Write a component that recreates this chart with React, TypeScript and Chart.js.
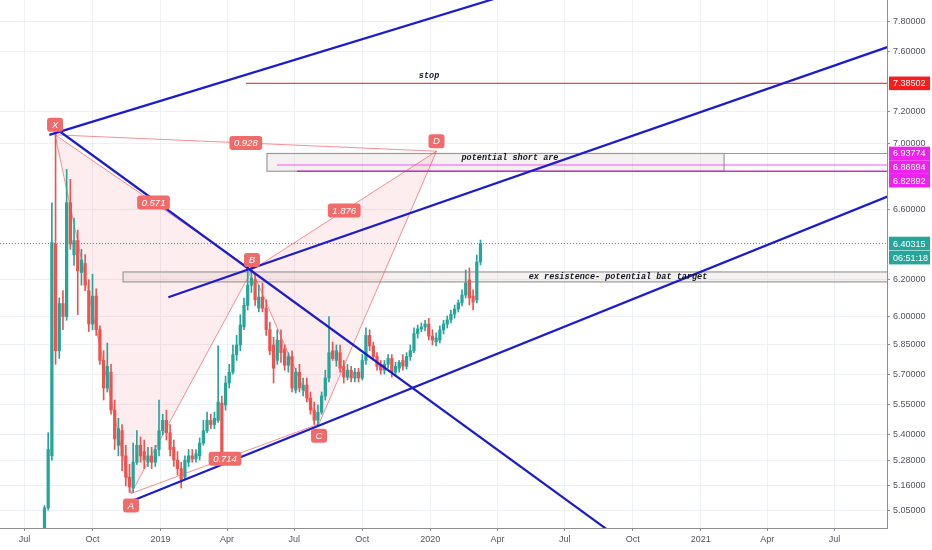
import React, { useEffect, useRef } from "react";
import { Chart, registerables } from "chart.js";

Chart.register(...registerables);

// ---------- data (x = days after 2018-07-01, y = price) ----------
const candleStartDay = 27;
const candleStepDays = 5;

const opens = [
  4.96, 5.06, 5.30, 6.40, 5.82, 6.07, 6.00, 6.64, 6.34, 6.42,
  6.24, 6.29, 6.14, 5.96, 6.11, 5.93, 5.77, 5.63, 5.71, 5.52,
  5.35, 5.42, 5.30, 5.20, 5.15, 5.27, 5.35, 5.32, 5.27, 5.30,
  5.27, 5.33, 5.42, 5.47, 5.41, 5.34, 5.28, 5.24, 5.20, 5.27,
  5.30, 5.285, 5.30, 5.36, 5.42, 5.47, 5.45, 5.47, 5.555, 5.545,
  5.655, 5.71, 5.80, 5.85, 5.945, 6.06, 6.17, 6.20, 6.045, 6.105,
  6.045, 5.93, 5.85, 5.77, 5.875, 5.83, 5.745, 5.79, 5.62, 5.71,
  5.62, 5.645, 5.58, 5.52, 5.47, 5.51, 5.59, 5.68, 5.82, 5.77,
  5.81, 5.74, 5.685, 5.72, 5.68, 5.71, 5.68, 5.77, 5.90, 5.845,
  5.79, 5.75, 5.72, 5.75, 5.78, 5.71, 5.73, 5.77, 5.74, 5.79,
  5.82, 5.91, 5.934, 5.944, 5.96, 5.897, 5.866, 5.876, 5.929, 5.96,
  5.982, 6.013, 6.04, 6.073, 6.116, 6.199, 6.111, 6.089, 6.299,
];
const highs = [
  5.07, 5.41, 6.64, 7.06, 6.10, 6.14, 6.84, 6.78, 6.55, 6.48,
  6.37, 6.34, 6.20, 6.23, 6.15, 5.95, 5.82, 5.86, 5.75, 5.57,
  5.48, 5.45, 5.35, 5.26, 5.36, 5.42, 5.39, 5.375, 5.34, 5.34,
  5.35, 5.57, 5.50, 5.52, 5.45, 5.375, 5.32, 5.27, 5.30, 5.33,
  5.33, 5.33, 5.385, 5.47, 5.51, 5.50, 5.51, 5.845, 5.59, 5.69,
  5.75, 5.85, 5.90, 6.01, 6.10, 6.25, 6.265, 6.23, 6.17, 6.18,
  6.09, 5.97, 5.89, 5.93, 5.93, 5.85, 5.81, 5.82, 5.73, 5.75,
  5.68, 5.68, 5.61, 5.56, 5.545, 5.61, 5.72, 6.00, 5.865, 5.85,
  5.85, 5.77, 5.75, 5.74, 5.73, 5.73, 5.80, 5.94, 5.93, 5.865,
  5.81, 5.77, 5.77, 5.80, 5.80, 5.76, 5.77, 5.80, 5.81, 5.85,
  5.94, 5.955, 5.966, 5.98, 5.99, 5.93, 5.913, 5.95, 5.98, 6.003,
  6.035, 6.062, 6.089, 6.144, 6.254, 6.265, 6.144, 6.338, 6.423,
];
const lows = [
  4.94, 5.05, 5.28, 5.75, 5.78, 5.93, 5.98, 6.37, 6.28, 6.01,
  6.17, 6.14, 5.92, 5.93, 5.90, 5.75, 5.57, 5.61, 5.50, 5.33,
  5.30, 5.23, 5.16, 5.13, 5.13, 5.26, 5.27, 5.24, 5.25, 5.24,
  5.25, 5.30, 5.40, 5.375, 5.30, 5.25, 5.21, 5.15, 5.19, 5.25,
  5.27, 5.27, 5.28, 5.35, 5.41, 5.43, 5.43, 5.46, 5.27, 5.52,
  5.63, 5.70, 5.77, 5.82, 5.93, 6.035, 6.13, 6.06, 6.025, 6.025,
  5.90, 5.80, 5.655, 5.75, 5.76, 5.72, 5.71, 5.61, 5.605, 5.61,
  5.59, 5.56, 5.50, 5.45, 5.443, 5.50, 5.57, 5.66, 5.77, 5.74,
  5.71, 5.655, 5.67, 5.66, 5.66, 5.66, 5.67, 5.75, 5.82, 5.77,
  5.72, 5.70, 5.70, 5.73, 5.685, 5.69, 5.71, 5.72, 5.726, 5.77,
  5.81, 5.886, 5.918, 5.923, 5.876, 5.85, 5.845, 5.86, 5.907, 5.939,
  5.966, 5.992, 6.024, 6.057, 6.10, 6.062, 6.035, 6.073, 6.282,
];
const closes = [
  5.06, 5.33, 6.41, 5.82, 6.07, 6.00, 6.64, 6.40, 6.42, 6.25,
  6.31, 6.17, 5.96, 6.11, 5.93, 5.77, 5.63, 5.74, 5.52, 5.38,
  5.43, 5.30, 5.20, 5.155, 5.27, 5.35, 5.30, 5.28, 5.30, 5.27,
  5.33, 5.42, 5.47, 5.41, 5.33, 5.28, 5.24, 5.19, 5.28, 5.30,
  5.285, 5.31, 5.36, 5.42, 5.47, 5.45, 5.48, 5.56, 5.30, 5.655,
  5.71, 5.80, 5.85, 5.955, 6.06, 6.17, 6.21, 6.09, 6.105, 6.045,
  5.93, 5.82, 5.73, 5.875, 5.81, 5.745, 5.79, 5.63, 5.71, 5.63,
  5.645, 5.58, 5.52, 5.47, 5.51, 5.59, 5.68, 5.81, 5.78, 5.82,
  5.73, 5.685, 5.72, 5.68, 5.71, 5.68, 5.77, 5.90, 5.845, 5.79,
  5.74, 5.72, 5.75, 5.78, 5.71, 5.74, 5.76, 5.74, 5.79, 5.82,
  5.91, 5.934, 5.944, 5.96, 5.897, 5.876, 5.886, 5.929, 5.96, 5.982,
  6.013, 6.04, 6.073, 6.116, 6.182, 6.10, 6.078, 6.299, 6.40315,
];

const xTickDays = [0, 92, 184, 274, 365, 457, 549, 640, 731, 823, 915, 1005, 1096];
const xTickLabels = ["Jul", "Oct", "2019", "Apr", "Jul", "Oct", "2020", "Apr", "Jul", "Oct", "2021", "Apr", "Jul"];
const yTickValues = [7.8, 7.6, 7.2, 7.0, 6.6, 6.2, 6.0, 5.85, 5.7, 5.55, 5.4, 5.28, 5.16, 5.05];
const xMinDay = -33.2;
const xMaxDay = 1167.1;
const yMinPrice = 4.97;
const yMaxPrice = 7.954;

const patternNames = ["X", "A", "B", "C", "D"];
const patternDays = [41.3, 144.1, 307.8, 398.5, 557.5];
const patternPrices = [7.054, 5.125, 6.254, 5.453, 6.952];
const patternLabelAbove = [true, false, true, false, true];
const ratioFrom = [0, 1, 2, 0];
const ratioTo = [2, 3, 4, 4];
const ratioTexts = ["0.571", "0.714", "1.876", "0.928"];

const trendStartDays = [33.6, 41.3, 194.6, 145.1];
const trendStartPrices = [7.054, 7.097, 6.104, 5.091];
const trendEndDays = [778.8, 805.8, 1184.7, 1184.7];
const trendEndPrices = [8.195, 4.922, 7.657, 6.707];

const stopPrice = 7.38502;
const stopStartDay = 299.7;
const stopTextDay = 547.4;
const stopText = "stop";

const zonePrices = [6.93774, 6.86694, 6.82892];
const zoneLineStartDays = [946.6, 341.7, 368.7];
const zoneBoxDays = [328.1, 946.6];
const zoneTextDay = 656.9;
const zoneText = "potential short are";

const targetBoxPrices = [6.243, 6.188];
const targetBoxDays = [133.3, 1473];
const targetTextDay = 803.1;
const targetText = "ex resistence- potential bat target";

const lastPrice = 6.40315;
const countdownText = "06:51:18";

// ---------- styles ----------
const UP = "#26a69a";
const DOWN = "#ef5350";
const BLUE = "rgb(28,28,206)";
const PATTERN_LINE = "rgba(242,70,80,0.6)";
const PATTERN_FILL = "rgba(242,54,69,0.09)";
const PATTERN_LABEL = "#f26b6b";
const STOP_RED = "#f0403f";
const MAGENTA = "#ee22ee";
const GRID = "#edf0f4";
const AXIS = "#8f8f8f";
const SANS = '"Liberation Sans", Arial, sans-serif';
const MONO = '"Liberation Mono", "Courier New", monospace';

const overlayPlugin = {
  id: "overlay",
  beforeDraw(chart: any) {
    const { ctx, width, height } = chart;
    ctx.save();
    ctx.fillStyle = "#ffffff";
    ctx.fillRect(0, 0, width, height);
    ctx.restore();
  },
  beforeDatasetsDraw(chart: any) {
    const { ctx, chartArea: a } = chart;
    const xs = chart.scales.x;
    const ys = chart.scales.y;
    const px = (d: number) => xs.getPixelForValue(d);
    const py = (p: number) => ys.getPixelForValue(p);
    ctx.save();
    ctx.beginPath();
    ctx.rect(a.left, a.top, a.right - a.left, a.bottom - a.top);
    ctx.clip();
    ctx.fillStyle = PATTERN_FILL;
    [[0, 1, 2], [2, 3, 4]].forEach((tri) => {
      ctx.beginPath();
      tri.forEach((k, j) => {
        const X = px(patternDays[k]);
        const Y = py(patternPrices[k]);
        if (j === 0) ctx.moveTo(X, Y);
        else ctx.lineTo(X, Y);
      });
      ctx.closePath();
      ctx.fill();
    });
    const drawBox = (days: number[], prices: number[]) => {
      const x1 = px(days[0]);
      const x2 = px(days[1]);
      const y1 = py(prices[0]);
      const y2 = py(prices[1]);
      ctx.fillStyle = "rgba(215,190,190,0.22)";
      ctx.fillRect(x1, y1, x2 - x1, y2 - y1);
      ctx.strokeStyle = "#9b9b9b";
      ctx.lineWidth = 1.2;
      ctx.strokeRect(x1, y1, x2 - x1, y2 - y1);
    };
    drawBox(zoneBoxDays, [zonePrices[0], zonePrices[2]]);
    drawBox(targetBoxDays, targetBoxPrices);
    ctx.restore();
  },
  afterDatasetsDraw(chart: any) {
    const { ctx, chartArea: a } = chart;
    const xs = chart.scales.x;
    const ys = chart.scales.y;
    const px = (d: number) => xs.getPixelForValue(d);
    const py = (p: number) => ys.getPixelForValue(p);
    ctx.save();
    ctx.beginPath();
    ctx.rect(a.left, a.top, a.right - a.left, a.bottom - a.top);
    ctx.clip();

    // annotation texts
    ctx.fillStyle = "#131722";
    ctx.font = `italic bold 8.5px ${MONO}`;
    ctx.textAlign = "center";
    ctx.textBaseline = "middle";
    ctx.fillText(stopText, px(stopTextDay), py(stopPrice) - 7.5);
    ctx.fillText(zoneText, px(zoneTextDay), py(zonePrices[0]) + 4.5);
    ctx.fillText(targetText, px(targetTextDay), (py(targetBoxPrices[0]) + py(targetBoxPrices[1])) / 2);

    // pattern labels
    const label = (cx: number, cy: number, text: string) => {
      ctx.font = `italic 9.5px ${SANS}`;
      const w = Math.max(16, ctx.measureText(text).width + 9);
      const h = 14;
      ctx.fillStyle = PATTERN_LABEL;
      ctx.beginPath();
      if ((ctx as any).roundRect) (ctx as any).roundRect(cx - w / 2, cy - h / 2, w, h, 3);
      else ctx.rect(cx - w / 2, cy - h / 2, w, h);
      ctx.fill();
      ctx.fillStyle = "#ffffff";
      ctx.textAlign = "center";
      ctx.textBaseline = "middle";
      ctx.fillText(text, cx, cy + 0.5);
    };
    ratioTexts.forEach((t, i) => {
      const a1 = ratioFrom[i];
      const b1 = ratioTo[i];
      const cx = (px(patternDays[a1]) + px(patternDays[b1])) / 2;
      const cy = (py(patternPrices[a1]) + py(patternPrices[b1])) / 2;
      label(cx, cy, t);
    });
    patternNames.forEach((n, i) => {
      const cx = px(patternDays[i]);
      const cy = py(patternPrices[i]) + (patternLabelAbove[i] ? -10 : 12);
      label(cx, cy, n);
    });
    ctx.restore();
  },
  afterDraw(chart: any) {
    const { ctx, chartArea: a } = chart;
    const ys = chart.scales.y;
    const py = (p: number) => ys.getPixelForValue(p);
    const left = a.right + 2;
    const w = 41;
    const h = 13.6;
    ctx.save();
    ctx.font = `9px ${SANS}`;
    ctx.textAlign = "left";
    ctx.textBaseline = "middle";
    const tag = (cy: number, text: string, bg: string) => {
      ctx.fillStyle = bg;
      ctx.fillRect(left, cy - h / 2, w, h);
      ctx.fillStyle = "#ffffff";
      ctx.fillText(text, left + 4, cy + 0.5);
    };
    tag(py(stopPrice), stopPrice.toFixed(5), "#f81c1c");
    const zy: number[] = [];
    zonePrices.forEach((p, i) => {
      let yv = py(p);
      if (i > 0) yv = Math.max(yv, zy[i - 1] + h);
      zy.push(yv);
    });
    zonePrices.forEach((p, i) => tag(zy[i], p.toFixed(5), MAGENTA));
    const ly = py(lastPrice);
    tag(ly, lastPrice.toFixed(5), UP);
    tag(ly + h + 0.5, countdownText, UP);
    ctx.restore();
  },
};

export default function App() {
  const ref = useRef<HTMLCanvasElement>(null);

  useEffect(() => {
    document.body.style.margin = "0";
    if (!ref.current) return;
    const candleDays = opens.map((_, i) => candleStartDay + i * candleStepDays);
    const candleColors = closes.map((c, i) => (c >= opens[i] ? UP : DOWN));

    const lineDs = (data: { x: number; y: number }[], color: string, width: number, order: number, dash: number[] = []) => ({
      type: "line" as const,
      data,
      borderColor: color,
      borderWidth: width,
      borderDash: dash,
      pointRadius: 0,
      pointHoverRadius: 0,
      fill: false,
      tension: 0,
      order,
      clip: 0,
    });

    const pt = (k: number) => ({ x: patternDays[k], y: patternPrices[k] });

    const datasets: any[] = [];
    trendStartDays.forEach((d, i) => {
      datasets.push(
        lineDs(
          [
            { x: d, y: trendStartPrices[i] },
            { x: trendEndDays[i], y: trendEndPrices[i] },
          ],
          BLUE,
          2.2,
          0
        )
      );
    });
    datasets.push(lineDs([{ x: stopStartDay, y: stopPrice }, { x: xMaxDay, y: stopPrice }], STOP_RED, 1.4, 1));
    zonePrices.forEach((p, i) => {
      datasets.push(
        lineDs([{ x: zoneLineStartDays[i], y: p }, { x: xMaxDay, y: p }], i === 2 ? "#c832c8" : "rgba(240,60,240,0.85)", i === 2 ? 1.6 : 1.1, 1)
      );
    });
    datasets.push(lineDs([{ x: xMinDay, y: lastPrice }, { x: xMaxDay, y: lastPrice }], UP, 1, 1, [1, 2]));
    datasets.push({
      type: "bar",
      data: candleDays.map((d, i) => ({ x: d, y: [opens[i], closes[i]] })),
      backgroundColor: candleColors,
      barThickness: 2.6,
      maxBarThickness: 2.6,
      minBarLength: 1,
      grouped: false,
      borderWidth: 0,
      order: 2,
    });
    datasets.push({
      type: "bar",
      data: candleDays.map((d, i) => ({ x: d, y: [lows[i], highs[i]] })),
      backgroundColor: candleColors,
      barThickness: 1,
      maxBarThickness: 1,
      grouped: false,
      borderWidth: 0,
      order: 3,
    });
    datasets.push(lineDs([pt(0), pt(1), pt(2), pt(0)], PATTERN_LINE, 1, 4));
    datasets.push(lineDs([pt(2), pt(3), pt(4), pt(2)], PATTERN_LINE, 1, 4));
    datasets.push(lineDs([pt(0), pt(4)], PATTERN_LINE, 1, 4));
    datasets.push(lineDs([pt(1), pt(3)], PATTERN_LINE, 1, 4));

    const chart = new Chart(ref.current, {
      type: "bar",
      data: { datasets },
      options: {
        animation: false,
        responsive: true,
        maintainAspectRatio: false,
        events: [],
        layout: { padding: 0 },
        plugins: { legend: { display: false }, tooltip: { enabled: false } },
        scales: {
          x: {
            type: "linear",
            min: xMinDay,
            max: xMaxDay,
            offset: false,
            grid: { offset: false, color: GRID, tickColor: AXIS, tickLength: 3, drawTicks: true },
            border: { display: true, color: AXIS, width: 1 },
            afterBuildTicks: (scale: any) => {
              scale.ticks = xTickDays.map((v) => ({ value: v }));
            },
            afterFit: (scale: any) => {
              scale.height = 22;
              scale.paddingLeft = 0;
              scale.paddingRight = 0;
            },
            ticks: {
              autoSkip: false,
              maxRotation: 0,
              padding: 3,
              color: "#50535e",
              font: { family: SANS, size: 9 },
              callback: (v: any) => {
                const k = xTickDays.indexOf(Number(v));
                return k >= 0 ? xTickLabels[k] : "";
              },
            },
          },
          y: {
            type: "logarithmic",
            position: "right",
            min: yMinPrice,
            max: yMaxPrice,
            beginAtZero: false,
            grid: { color: GRID, tickColor: AXIS, tickLength: 3, drawTicks: true },
            border: { display: true, color: AXIS, width: 1 },
            afterBuildTicks: (scale: any) => {
              scale.ticks = yTickValues.map((v) => ({ value: v }));
            },
            afterFit: (scale: any) => {
              scale.width = 45;
              scale.paddingTop = 0;
              scale.paddingBottom = 0;
            },
            ticks: {
              autoSkip: false,
              padding: 3,
              color: "#50535e",
              font: { family: SANS, size: 9 },
              callback: (v: any) => Number(v).toFixed(5),
            },
          },
        },
      } as any,
      plugins: [overlayPlugin],
    });
    return () => chart.destroy();
  }, []);

  return (
    <div style={{ position: "fixed", left: 0, top: 0, width: 932, height: 550, background: "#ffffff" }}>
      <canvas ref={ref} />
    </div>
  );
}
